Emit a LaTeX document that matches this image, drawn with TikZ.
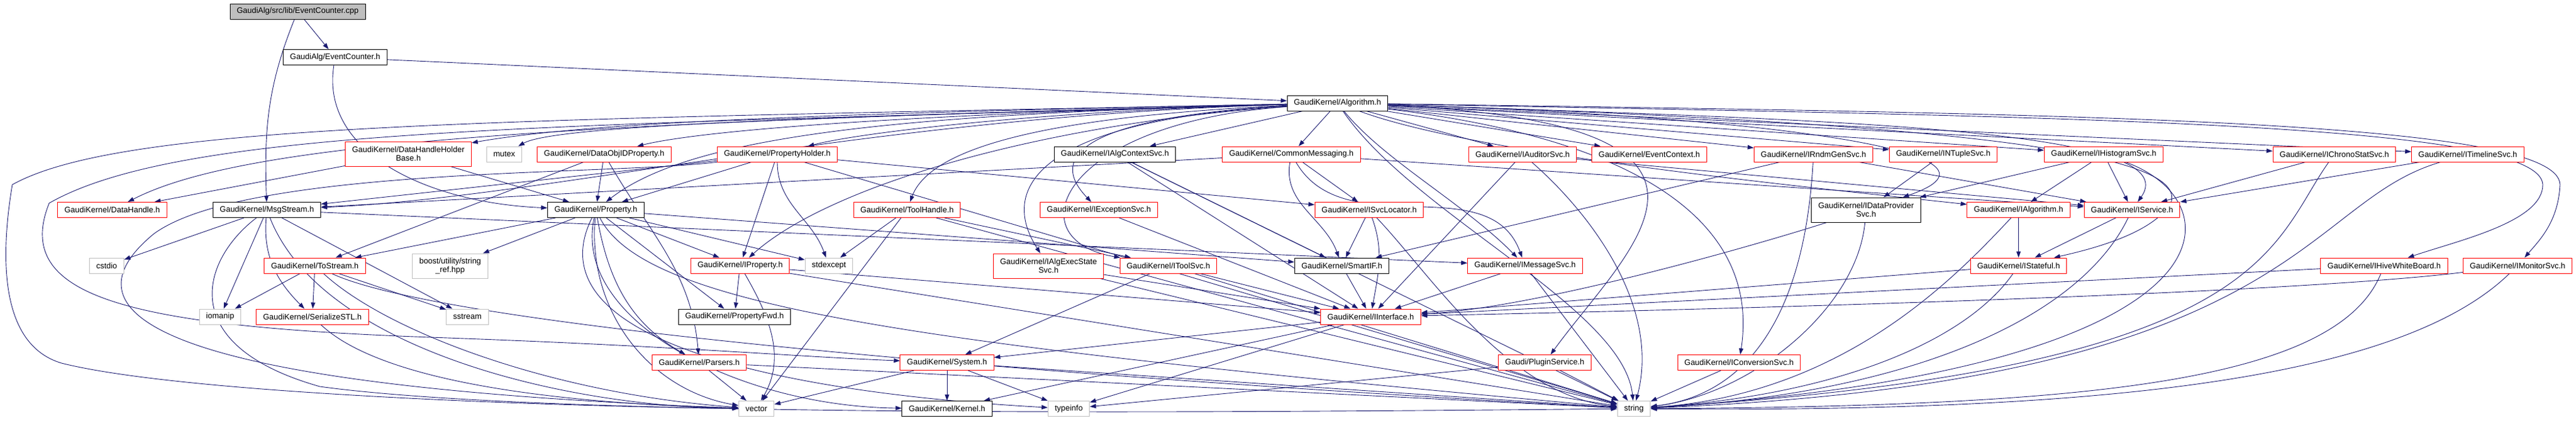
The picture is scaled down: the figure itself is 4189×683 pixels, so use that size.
\documentclass[tikz,border=0pt]{standalone}
\usepackage{fontspec}
\newfontfamily\graphfont{Liberation Sans}
\usetikzlibrary{arrows.meta,backgrounds}
\definecolor{edgeblue}{HTML}{191970}
\definecolor{sysgray}{HTML}{BFBFBF}
\tikzset{
  hdr/.style={draw=black, fill=white, line width=1pt, inner xsep=11pt, inner ysep=0pt,
    minimum height=25pt, align=center, font=\graphfont\fontsize{13}{14}\selectfont},
  trunc/.style={hdr, draw=red},
  syshdr/.style={hdr, draw=sysgray},
  roothdr/.style={hdr, fill=sysgray},
  dep/.style={draw=edgeblue, line width=0.9pt, -{Triangle[length=10pt,width=7pt]}},
}
\begin{document}
\begin{tikzpicture}[x=1pt,y=-1pt]
\useasboundingbox (0,0) rectangle (4189,683);

\node[roothdr] (ecpp) at (484,18.5) {GaudiAlg/src/lib/EventCounter.cpp};
\node[hdr] (ech) at (545,93) {GaudiAlg/EventCounter.h};
\node[hdr] (alg) at (2175,167.5) {GaudiKernel/Algorithm.h};

\node[trunc,minimum height=40pt] (dhhb) at (664,250) {GaudiKernel/DataHandleHolder\\Base.h};
\node[syshdr] (mutex) at (820,250.5) {mutex};
\node[trunc] (dop) at (982.5,250.5) {GaudiKernel/DataObjIDProperty.h};
\node[trunc] (pholder) at (1264,250.5) {GaudiKernel/PropertyHolder.h};
\node[hdr] (iacs) at (1813,250.5) {GaudiKernel/IAlgContextSvc.h};
\node[trunc] (cmsg) at (2100,250.5) {GaudiKernel/CommonMessaging.h};
\node[trunc] (iaud) at (2476,250.5) {GaudiKernel/IAuditorSvc.h};
\node[trunc] (evctx) at (2682,250.5) {GaudiKernel/EventContext.h};
\node[trunc] (irndm) at (2949,250.5) {GaudiKernel/IRndmGenSvc.h};
\node[trunc] (intup) at (3160,250.5) {GaudiKernel/INTupleSvc.h};
\node[trunc] (ihist) at (3421,250.5) {GaudiKernel/IHistogramSvc.h};
\node[trunc] (ichrono) at (3796,250.5) {GaudiKernel/IChronoStatSvc.h};
\node[trunc] (itime) at (4013,250.5) {GaudiKernel/ITimelineSvc.h};

\node[trunc] (dhandle) at (182.5,341) {GaudiKernel/DataHandle.h};
\node[hdr] (msg) at (434,341) {GaudiKernel/MsgStream.h};
\node[hdr] (prop) at (969,341) {GaudiKernel/Property.h};
\node[trunc] (toolh) at (1475,341) {GaudiKernel/ToolHandle.h};
\node[trunc] (iexc) at (1787,341) {GaudiKernel/IExceptionSvc.h};
\node[trunc] (isl) at (2226.5,341) {GaudiKernel/ISvcLocator.h};
\node[hdr,minimum height=40pt] (idps) at (3034.5,341) {GaudiKernel/IDataProvider\\Svc.h};
\node[trunc] (ialgo) at (3282.5,341) {GaudiKernel/IAlgorithm.h};
\node[trunc] (isvc) at (3467,341) {GaudiKernel/IService.h};

\node[syshdr] (cstdio) at (173.5,431.5) {cstdio};
\node[trunc] (tostr) at (512,431.5) {GaudiKernel/ToStream.h};
\node[syshdr,minimum height=40pt] (boost) at (732,432) {boost/utility/string\\\_ref.hpp};
\node[trunc] (iprop) at (1203.5,431.5) {GaudiKernel/IProperty.h};
\node[syshdr] (stdexc) at (1348,431.5) {stdexcept};
\node[trunc,minimum height=40pt] (iaess) at (1705,432) {GaudiKernel/IAlgExecState\\Svc.h};
\node[trunc] (itool) at (1900,431.5) {GaudiKernel/IToolSvc.h};
\node[hdr] (smartif) at (2182,431.5) {GaudiKernel/SmartIF.h};
\node[trunc] (imsg) at (2480,431.5) {GaudiKernel/IMessageSvc.h};
\node[trunc] (istate) at (3282.5,431.5) {GaudiKernel/IStateful.h};
\node[trunc] (ihive) at (3877,431.5) {GaudiKernel/IHiveWhiteBoard.h};
\node[trunc] (imon) at (4094,431.5) {GaudiKernel/IMonitorSvc.h};

\node[syshdr] (iomanip) at (358,514.5) {iomanip};
\node[trunc] (sstl) at (508,514.5) {GaudiKernel/SerializeSTL.h};
\node[syshdr] (sstream) at (760,514.5) {sstream};
\node[hdr] (pfwd) at (1194.5,514.5) {GaudiKernel/PropertyFwd.h};
\node[trunc] (iintf) at (2229,514.5) {GaudiKernel/IInterface.h};

\node[trunc] (parsers) at (1137,589) {GaudiKernel/Parsers.h};
\node[trunc] (system) at (1540,589) {GaudiKernel/System.h};
\node[trunc] (plugin) at (2512,589) {Gaudi/PluginService.h};
\node[trunc] (iconv) at (2828,589) {GaudiKernel/IConversionSvc.h};

\node[syshdr] (vector) at (1230,664) {vector};
\node[hdr] (kernel) at (1540,664) {GaudiKernel/Kernel.h};
\node[syshdr] (typeinfo) at (1738,664) {typeinfo};
\node[syshdr] (string) at (2657,664) {string};

\begin{scope}[on background layer]
% top of the graph
\draw[dep] (ecpp) to[out=-112,in=92] (msg);
\draw[dep] (ecpp) -- (ech);
\draw[dep] (ech) -- (alg);
\draw[dep] (ech) .. controls (520,250) and (700,330) .. (prop);

% Algorithm.h, to the left
\draw[dep] (alg) .. controls (900,200) and (400,230) .. (dhandle);
\draw[dep] (alg) .. controls (1400,190) and (900,320) .. (msg);
\draw[dep] (alg) .. controls (1300,185) and (950,200) .. (dhhb);
\draw[dep] (alg) .. controls (1300,190) and (900,205) .. (mutex);
\draw[dep] (alg) .. controls (1500,185) and (1150,210) .. (dop);
\draw[dep] (alg) .. controls (1700,180) and (1400,215) .. (pholder);
\draw[dep] (alg) .. controls (1500,185) and (1130,215) .. (prop);
\draw[dep] (alg) .. controls (1800,185) and (1520,220) .. (toolh);
\draw[dep] (alg) .. controls (1850,185) and (1680,230) .. (iexc);
\draw[dep] (alg) .. controls (1700,195) and (1620,300) .. (iaess);
\draw[dep] (alg) .. controls (1720,200) and (1650,390) .. (itool);
\draw[dep] (alg) .. controls (1700,200) and (1350,300) .. (iprop);
\draw[dep] (alg) .. controls (900,205) and (300,205) .. (80,330)
  .. controls (20,480) and (200,530) .. (700,548)
  .. controls (1100,562) and (1300,580) .. (system);
\draw[dep] (alg) .. controls (800,195) and (200,200) .. (20,300)
  .. controls (0,420) and (0,560) .. (100,590)
  .. controls (300,640) and (900,660) .. (vector);

% Algorithm.h, to the right
\foreach \t in {iacs,cmsg,iaud,evctx,irndm,intup,ihist,ichrono,itime}
  \draw[dep] (alg) -- (\t);
\draw[dep] (alg) .. controls (2250,260) and (2380,330) .. (imsg);
\draw[dep] (alg) .. controls (2300,350) and (2640,500) .. (string);
\draw[dep] (alg) .. controls (2400,250) and (2900,300) .. (ialgo);
\draw[dep] (alg) .. controls (2900,190) and (3300,250) .. (idps);
\draw[dep] (alg) .. controls (2900,200) and (2650,400) .. (plugin);
\draw[dep] (alg) .. controls (2700,230) and (2860,380) .. (iconv);
\draw[dep] (alg) .. controls (3000,195) and (3560,210) .. (isvc);
\draw[dep] (alg) .. controls (3200,200) and (3560,250) .. (3530,330)
  .. controls (3500,380) and (3400,405) .. (istate);
\draw[dep] (alg) .. controls (3400,190) and (4130,200) .. (4135,300)
  .. controls (4135,360) and (4000,390) .. (ihive);
\draw[dep] (alg) .. controls (3400,185) and (4160,195) .. (4163,300)
  .. controls (4160,360) and (4130,390) .. (imon);

% second row
\draw[dep] (dhhb) -- (dhandle);
\draw[dep] (dhhb) -- (prop);
\draw[dep] (dop) -- (prop);
\draw[dep] (dop) -- (tostr);
\draw[dep] (dop) to[out=-60,in=95] (parsers);
\foreach \t in {msg,prop,iprop,isl,string}
  \draw[dep] (pholder) -- (\t);
\draw[dep] (pholder) to[out=-90,in=110] (stdexc);
\draw[dep] (pholder) .. controls (1000,285) and (400,270) .. (250,380)
  .. controls (80,520) and (300,630) .. (vector);
\draw[dep] (iacs) -- (iintf);
\draw[dep] (iacs) -- (smartif);
\draw[dep] (iacs) -- (string);
\draw[dep] (cmsg) -- (msg);
\draw[dep] (cmsg) -- (isl);
\draw[dep] (cmsg) to[out=-100,in=110] (smartif);
\draw[dep] (cmsg) to[out=-60,in=110] (imsg);
\draw[dep] (cmsg) -- (isvc);
\draw[dep] (iaud) -- (isvc);
\draw[dep] (iaud) -- (iintf);
\draw[dep] (iaud) .. controls (2590,350) and (2700,500) .. (string);
\draw[dep] (irndm) -- (isvc);
\draw[dep] (irndm) -- (smartif);
\draw[dep] (irndm) .. controls (2935,500) and (2850,640) .. (string);
\draw[dep] (intup) -- (idps);
\draw[dep] (ihist) -- (idps);
\draw[dep] (ihist) -- (isvc);
\draw[dep] (ihist) -- (ialgo);
\draw[dep] (ihist) .. controls (3640,330) and (3650,600) .. (string);
\draw[dep] (ichrono) -- (isvc);
\draw[dep] (ichrono) .. controls (3690,400) and (3690,600) .. (string);
\draw[dep] (itime) -- (isvc);
\draw[dep] (itime) .. controls (3740,330) and (3740,620) .. (string);

% third row
\draw[dep] (msg) -- (cstdio);
\draw[dep] (msg) -- (iomanip);
\draw[dep] (msg) to[out=-95,in=135] (sstl);
\draw[dep] (msg) -- (sstream);
\draw[dep] (msg) -- (imsg);
\draw[dep] (msg) .. controls (520,560) and (900,660) .. (vector);
\draw[dep] (msg) .. controls (330,420) and (280,560) .. (520,628)
  .. controls (900,680) and (2000,670) .. (string);
\foreach \t in {boost,tostr,iprop,stdexc,pfwd,smartif}
  \draw[dep] (prop) -- (\t);
\draw[dep] (prop) to[out=-80,in=150] (parsers);
\draw[dep] (prop) to[out=-95,in=170] (vector);
\draw[dep] (prop) .. controls (930,520) and (1200,660) .. (kernel);
\draw[dep] (prop) .. controls (860,560) and (1300,640) .. (typeinfo);
\draw[dep] (prop) .. controls (1050,500) and (1500,560) .. (string);
\draw[dep] (toolh) -- (itool);
\draw[dep] (toolh) -- (stdexc);
\draw[dep] (toolh) -- (vector);
\draw[dep] (toolh) -- (string);
\draw[dep] (iexc) -- (iintf);
\draw[dep] (isl) -- (smartif);
\draw[dep] (isl) to[out=-70,in=80] (iintf);
\draw[dep] (isl) .. controls (2330,450) and (2450,640) .. (string);
\draw[dep] (idps) .. controls (2850,400) and (2500,500) .. (iintf);
\draw[dep] (idps) .. controls (3020,500) and (2850,640) .. (string);
\draw[dep] (ialgo) -- (istate);
\draw[dep] (ialgo) .. controls (3180,450) and (3000,640) .. (string);
\draw[dep] (isvc) -- (istate);
\draw[dep] (isvc) .. controls (3380,520) and (3100,640) .. (string);

% fourth row
\draw[dep] (tostr) -- (iomanip);
\draw[dep] (tostr) -- (sstl);
\draw[dep] (tostr) -- (sstream);
\draw[dep] (tostr) .. controls (630,540) and (900,640) .. (vector);
\draw[dep] (tostr) .. controls (700,520) and (1500,600) .. (string);
\draw[dep] (iprop) -- (pfwd);
\draw[dep] (iprop) to[out=-60,in=60] (vector);
\draw[dep] (iprop) -- (string);
\draw[dep] (iprop) -- (iintf);
\draw[dep] (iaess) -- (iintf);
\draw[dep] (iaess) -- (string);
\foreach \t in {system,iintf,string}
  \draw[dep] (itool) -- (\t);
\draw[dep] (smartif) -- (iintf);
\draw[dep] (imsg) -- (iintf);
\draw[dep] (imsg) -- (string);
\draw[dep] (istate) -- (iintf);
\draw[dep] (istate) .. controls (3200,550) and (3000,640) .. (string);
\draw[dep] (ihive) -- (iintf);
\draw[dep] (ihive) .. controls (3800,620) and (3400,660) .. (string);
\draw[dep] (imon) .. controls (3700,480) and (2700,505) .. (iintf);
\draw[dep] (imon) .. controls (3900,620) and (3400,670) .. (string);

% bottom rows
\draw[dep] (sstl) .. controls (620,620) and (900,655) .. (vector);
\foreach \t in {system,kernel,typeinfo}
  \draw[dep] (iintf) -- (\t);
\foreach \t in {kernel,typeinfo,string,vector}
  \draw[dep] (system) -- (\t);
\draw[dep] (parsers) -- (vector);
\draw[dep] (parsers) -- (string);
\draw[dep] (plugin) -- (string);
\draw[dep] (plugin) -- (typeinfo);
\draw[dep] (iconv) -- (string);
\end{scope}
\end{tikzpicture}
\end{document}
